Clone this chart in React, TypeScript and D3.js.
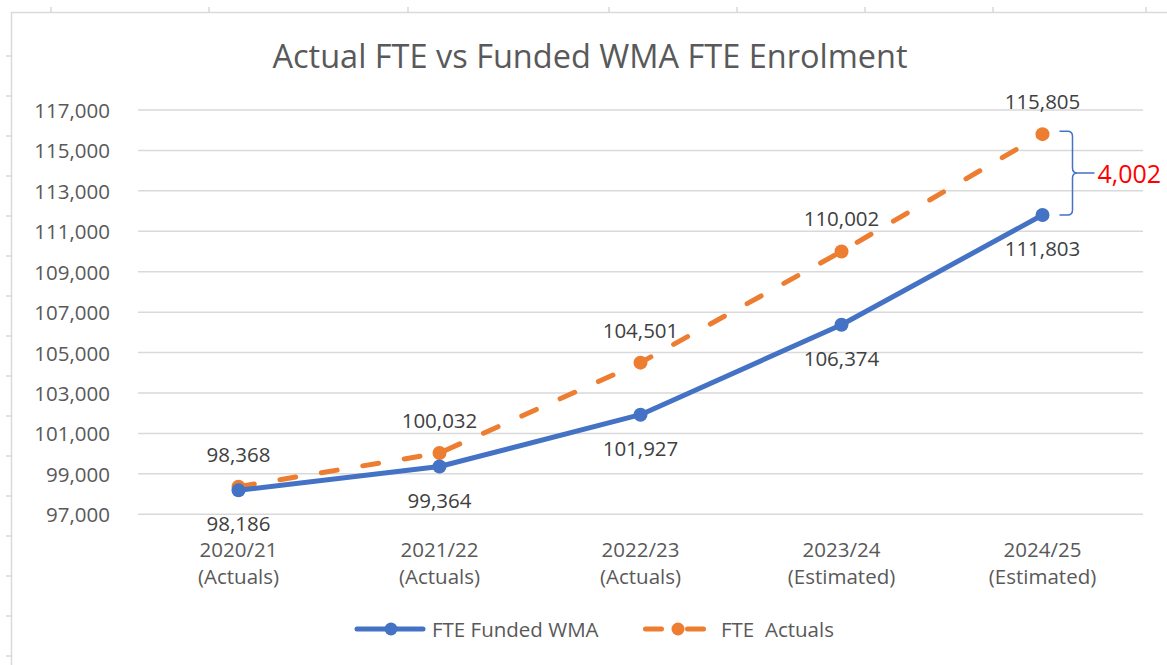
import React, { useEffect, useRef } from "react";
import * as d3 from "d3";

// chart values
const categories = ["2020/21", "2021/22", "2022/23", "2023/24", "2024/25"];
const categoryNotes = ["(Actuals)", "(Actuals)", "(Actuals)", "(Estimated)", "(Estimated)"];
const fundedWMA = [98186, 99364, 101927, 106374, 111803];
const fteActuals = [98368, 100032, 104501, 110002, 115805];
const yTicks = [97000, 99000, 101000, 103000, 105000, 107000, 109000, 111000, 113000, 115000, 117000];
const seriesNames = ["FTE Funded WMA", "FTE  Actuals"];

// sheet frame ticks (spreadsheet behind the chart)
const frameTopTicks = [51, 209, 408, 609, 737, 865, 993, 1146];
const frameLeftTicks = d3.range(56, 665, 40);

const W = 1167;
const H = 665;
const BLUE = "#4472C4";
const ORANGE = "#ED7D31";
const TEXT = "#595959";
const FONT = "'Open Sans', 'Noto Sans', sans-serif";

const App = () => {
  const ref = useRef<SVGSVGElement | null>(null);

  useEffect(() => {
    const svg = d3.select(ref.current);
    svg.selectAll("*").remove();

    const margin = { top: 110, left: 138, right: W - 1143, bottom: H - 514.3 };

    const x = d3.scaleBand<string>()
      .domain(categories)
      .range([margin.left, W - margin.right]);

    const y = d3.scaleLinear()
      .domain([97000, 117000])
      .range([H - margin.bottom, margin.top]);

    const cx = (i: number) => (x(categories[i]) as number) + x.bandwidth() / 2;
    const fmt = d3.format(",");

    svg.append("rect").attr("width", W).attr("height", H).attr("fill", "#fff");

    // frame of the sheet
    const frame = svg.append("g").attr("stroke", "#d9d9d9").attr("stroke-width", 1.5);
    frame.append("line").attr("x1", 11).attr("x2", W).attr("y1", 12.5).attr("y2", 12.5);
    frame.append("line").attr("x1", 11.5).attr("x2", 11.5).attr("y1", 12).attr("y2", H);
    frame.selectAll(".tt").data(frameTopTicks).enter().append("line")
      .attr("x1", d => d).attr("x2", d => d).attr("y1", 7).attr("y2", 12);
    frame.selectAll(".lt").data(frameLeftTicks).enter().append("line")
      .attr("x1", 6).attr("x2", 11).attr("y1", d => d).attr("y2", d => d);

    // title
    svg.append("text")
      .attr("x", 590).attr("y", 55)
      .attr("text-anchor", "middle")
      .attr("dominant-baseline", "central")
      .attr("font-family", FONT)
      .attr("font-size", 32.5)
      .attr("fill", TEXT)
      .text("Actual FTE vs Funded WMA FTE Enrolment");

    // gridlines
    svg.append("g").selectAll("line").data(yTicks).enter().append("line")
      .attr("x1", margin.left).attr("x2", W - margin.right)
      .attr("y1", d => y(d)).attr("y2", d => y(d))
      .attr("stroke", "#d9d9d9").attr("stroke-width", 1.5);

    // y axis labels
    svg.append("g").selectAll("text").data(yTicks).enter().append("text")
      .attr("x", 110).attr("y", d => y(d))
      .attr("text-anchor", "end")
      .attr("dominant-baseline", "central")
      .attr("font-family", FONT).attr("font-size", 20.5)
      .attr("fill", TEXT)
      .text(d => fmt(d));

    // x axis labels
    const xl = svg.append("g").selectAll("g").data(categories).enter().append("g");
    xl.append("text")
      .attr("x", (d, i) => cx(i)).attr("y", 549)
      .attr("text-anchor", "middle").attr("dominant-baseline", "central")
      .attr("font-family", FONT).attr("font-size", 20.5).attr("fill", TEXT)
      .text(d => d);
    xl.append("text")
      .attr("x", (d, i) => cx(i)).attr("y", 576)
      .attr("text-anchor", "middle").attr("dominant-baseline", "central")
      .attr("font-family", FONT).attr("font-size", 20.5).attr("fill", TEXT)
      .text((d, i) => categoryNotes[i]);

    const line = d3.line<number>()
      .x((d, i) => cx(i))
      .y(d => y(d));

    // FTE Actuals (dashed)
    svg.append("path")
      .attr("d", line(fteActuals))
      .attr("fill", "none").attr("stroke", ORANGE).attr("stroke-width", 5)
      .attr("stroke-dasharray", "16 26").attr("stroke-linecap", "round");
    svg.append("g").selectAll("circle").data(fteActuals).enter().append("circle")
      .attr("cx", (d, i) => cx(i)).attr("cy", d => y(d)).attr("r", 7)
      .attr("fill", ORANGE);

    // FTE Funded WMA (solid)
    svg.append("path")
      .attr("d", line(fundedWMA))
      .attr("fill", "none").attr("stroke", BLUE).attr("stroke-width", 5)
      .attr("stroke-linecap", "round").attr("stroke-linejoin", "round");
    svg.append("g").selectAll("circle").data(fundedWMA).enter().append("circle")
      .attr("cx", (d, i) => cx(i)).attr("cy", d => y(d)).attr("r", 7)
      .attr("fill", BLUE);

    // data labels
    svg.append("g").selectAll("text").data(fteActuals).enter().append("text")
      .attr("x", (d, i) => cx(i)).attr("y", d => y(d) - 33)
      .attr("text-anchor", "middle").attr("dominant-baseline", "central")
      .attr("font-family", FONT).attr("font-size", 20.5).attr("fill", "#404040")
      .text(d => fmt(d));
    svg.append("g").selectAll("text").data(fundedWMA).enter().append("text")
      .attr("x", (d, i) => cx(i)).attr("y", d => y(d) + 33)
      .attr("text-anchor", "middle").attr("dominant-baseline", "central")
      .attr("font-family", FONT).attr("font-size", 20.5).attr("fill", "#404040")
      .text(d => fmt(d));

    // bracket showing the gap in the last year
    const last = categories.length - 1;
    const top = y(fteActuals[last]) - 3;
    const bot = y(fundedWMA[last]);
    const mid = (top + bot) / 2;
    const bx = cx(last) + 17;
    const vx = bx + 13;
    const p = d3.path();
    p.moveTo(bx, top);
    p.lineTo(vx - 5, top);
    p.quadraticCurveTo(vx, top, vx, top + 5);
    p.lineTo(vx, mid - 5);
    p.quadraticCurveTo(vx, mid, vx + 5, mid);
    p.quadraticCurveTo(vx, mid, vx, mid + 5);
    p.lineTo(vx, bot - 5);
    p.quadraticCurveTo(vx, bot, vx - 5, bot);
    p.lineTo(bx, bot);
    p.moveTo(vx + 5, mid);
    p.lineTo(vx + 22, mid);
    svg.append("path").attr("d", p.toString())
      .attr("fill", "none").attr("stroke", BLUE).attr("stroke-width", 1.5);
    svg.append("text")
      .attr("x", vx + 25).attr("y", mid)
      .attr("dominant-baseline", "central")
      .attr("font-family", FONT).attr("font-size", 25).attr("fill", "#FF0000")
      .text(fmt(fteActuals[last] - fundedWMA[last]));

    // legend
    const ly = 629;
    const lg = svg.append("g");
    lg.append("line").attr("x1", 357).attr("x2", 423).attr("y1", ly).attr("y2", ly)
      .attr("stroke", BLUE).attr("stroke-width", 5).attr("stroke-linecap", "round");
    lg.append("circle").attr("cx", 391).attr("cy", ly).attr("r", 6.5).attr("fill", BLUE);
    lg.append("text").attr("x", 432).attr("y", ly)
      .attr("dominant-baseline", "central")
      .attr("font-family", FONT).attr("font-size", 20.5).attr("fill", TEXT)
      .text(seriesNames[0]);
    lg.append("line").attr("x1", 645.5).attr("x2", 705).attr("y1", ly).attr("y2", ly)
      .attr("stroke", ORANGE).attr("stroke-width", 5).attr("stroke-linecap", "round")
      .attr("stroke-dasharray", "16 26");
    lg.append("circle").attr("cx", 678).attr("cy", ly).attr("r", 6.5).attr("fill", ORANGE);
    lg.append("text").attr("x", 721).attr("y", ly)
      .attr("dominant-baseline", "central")
      .attr("font-family", FONT).attr("font-size", 20.5).attr("fill", TEXT)
      .style("white-space", "pre")
      .text(seriesNames[1]);
  }, []);

  return (
    <svg
      ref={ref}
      width={W}
      height={H}
      style={{ position: "absolute", left: 0, top: 0, display: "block" }}
    />
  );
};

export default App;
